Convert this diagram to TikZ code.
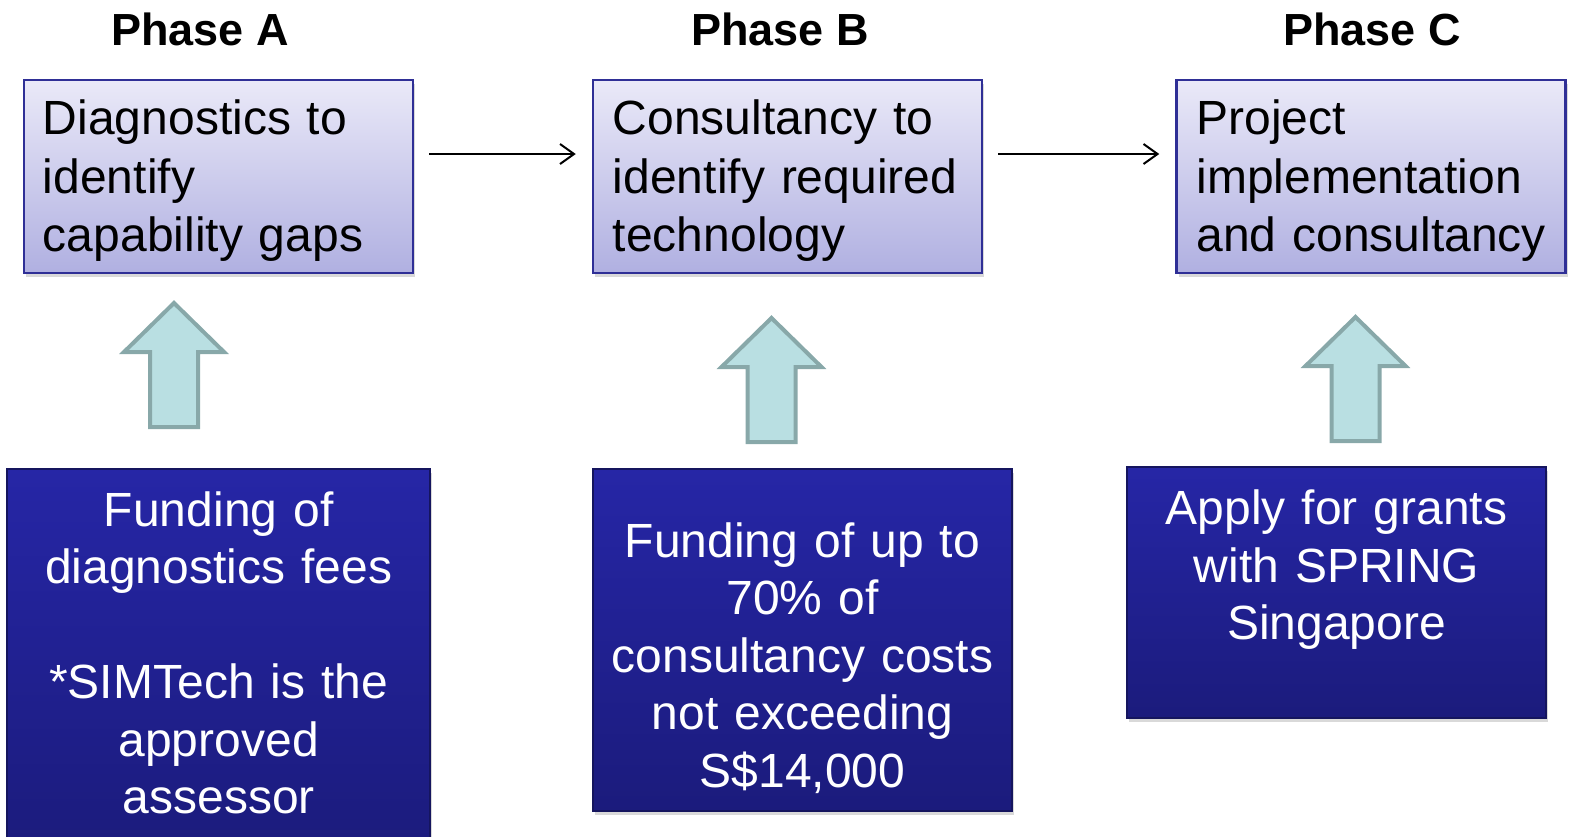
\documentclass[tikz,border=0pt]{standalone}
\usepackage{fontspec}
\setmainfont{Liberation Sans}
\usetikzlibrary{arrows.meta,calc,shadows}

\definecolor{phasetop}{HTML}{EAE9F8}
\definecolor{phasebot}{HTML}{B0B0E1}
\definecolor{phaseline}{HTML}{2F2F96}
\definecolor{fundtop}{HTML}{2626A6}
\definecolor{fundbot}{HTML}{1B1B7C}
\definecolor{fundline}{HTML}{15155E}
\definecolor{upfill}{HTML}{B9DFE2}
\definecolor{upline}{HTML}{88A8A9}

\tikzset{
  phasetitle/.style={anchor=base, inner sep=0pt, font=\fontsize{45}{54}\selectfont\bfseries},
  phasebox/.style={rectangle, draw=phaseline, line width=2.5pt, top color=phasetop, bottom color=phasebot,
    minimum width=389pt, minimum height=193pt, inner sep=0pt,
    drop shadow={shadow xshift=2pt, shadow yshift=-4pt, opacity=0.3}},
  phasetext/.style={anchor=north west, inner sep=0pt, text width=370pt, align=left,
    font=\fontsize{48}{58.5}\selectfont},
  fundbox/.style={rectangle, draw=fundline, line width=1.5pt, top color=fundtop, bottom color=fundbot,
    inner sep=0pt, drop shadow={shadow xshift=2pt, shadow yshift=-4pt, opacity=0.3}},
  fundtext/.style={anchor=north, inner sep=0pt, text width=405pt, align=center, text=white,
    font=\fontsize{48}{57.5}\selectfont},
  uparrow/.style={draw=upline, fill=upfill, line width=4pt, line join=miter},
  flow/.style={draw=black, line width=2pt, -{Straight Barb[length=14pt,width=20pt]}}
}

\begin{document}
\begin{tikzpicture}[x=1pt,y=-1pt]
\useasboundingbox (0,0) rectangle (1572,836);
\clip (0,0) rectangle (1572,836);

% phase titles
\node[phasetitle] (hA) at (200,45) {Phase A};
\node[phasetitle] (hB) at (780,45) {Phase B};
\node[phasetitle] (hC) at (1372,45) {Phase C};

% phase boxes
\node[phasebox] (pA) at (218.5,176.5) {};
\node[phasebox] (pB) at (787.5,176.5) {};
\node[phasebox] (pC) at (1371,176.5) {};

\node[phasetext] (tA) at ($(pA.north west)+(20,21)$) {Diagnostics to\\identify\\capability gaps};
\node[phasetext] (tB) at ($(pB.north west)+(21,21)$) {Consultancy to\\identify required\\technology};
\node[phasetext] (tC) at ($(pC.north west)+(21,21)$) {Project\\implementation\\and consultancy};

% flow between phases
\draw[flow] ($(pA.east)+(15,-22.5)$) -- ($(pB.west)+(-16,-22.5)$);
\draw[flow] ($(pB.east)+(15,-22.5)$) -- ($(pC.west)+(-16,-22.5)$);

% funding boxes
\node[fundbox, minimum width=423pt, minimum height=381pt] (fA) at (218.7,659.7) {};
\node[fundbox, minimum width=419pt, minimum height=342pt] (fB) at (802.4,640) {};
\node[fundbox, minimum width=419pt, minimum height=251pt] (fC) at (1336.5,592.4) {};

\node[fundtext] (gA) at ($(fA.north)+(0,23)$) {Funding of\\diagnostics fees\\[57.5pt]*SIMTech is the\\approved\\assessor};
\node[fundtext] (gB) at ($(fB.north)+(0,54)$) {Funding of up to\\70\% of\\consultancy costs\\not exceeding\\S\$14,000};
\node[fundtext] (gC) at ($(fC.north)+(0,23.5)$) {Apply for grants\\with SPRING\\Singapore};

% block arrows
\foreach \cx/\ty in {174/303, 771.5/318, 1355.5/317}
  \draw[uparrow] (\cx,\ty) -- ++(50,49) -- ++(-26,0) -- ++(0,75) -- ++(-48,0) -- ++(0,-75) -- ++(-26,0) -- cycle;

\end{tikzpicture}
\end{document}
